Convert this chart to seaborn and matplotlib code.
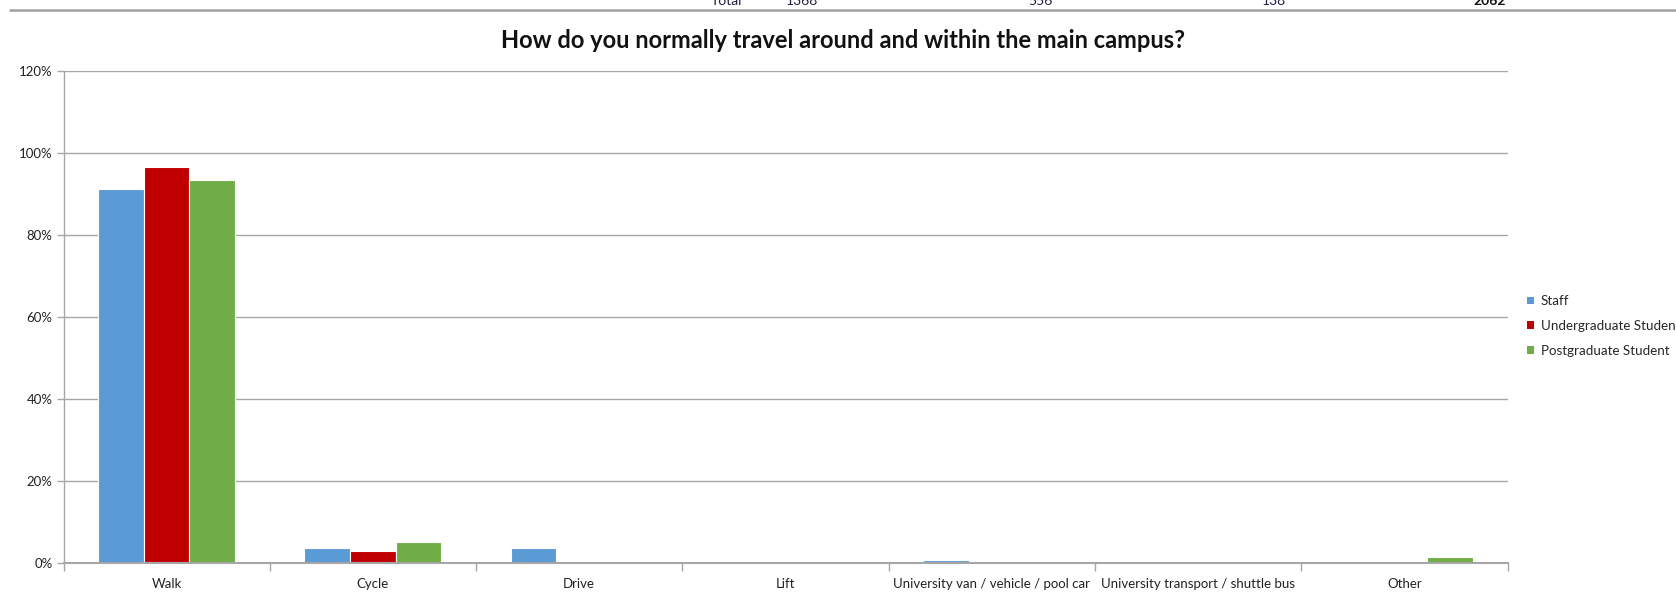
import matplotlib
matplotlib.use("Agg")
import matplotlib.pyplot as plt
from matplotlib.lines import Line2D
from matplotlib.patches import Patch
from matplotlib.ticker import FixedLocator, PercentFormatter
import seaborn as sns
import pandas as pd

# Survey results: share of each respondent group using each mode
modes = ["Walk", "Cycle", "Drive", "Lift",
         "University van / vehicle / pool car",
         "University transport / shuttle bus", "Other"]
groups = ["Staff", "Undergraduate Student", "Postgraduate Student"]
staff = [0.913, 0.0365, 0.0365, 0.0, 0.0073, 0.0, 0.0]
undergrad = [0.966, 0.029, 0.0, 0.0, 0.0, 0.0, 0.0]
postgrad = [0.935, 0.051, 0.0, 0.0, 0.0, 0.0, 0.0145]
colors = ["#5B9BD5", "#C00000", "#70AD47"]

# Totals row from the table above the chart
total_label = "Total"
totals = ["1368", "556", "138"]
grand_total = "2062"

rows = []
for g, vals in zip(groups, [staff, undergrad, postgrad]):
    for m, v in zip(modes, vals):
        rows.append({"mode": m, "group": g, "share": v})
df = pd.DataFrame(rows)

sns.set_theme(style="white")
plt.rcParams["font.family"] = ["Lato", "DejaVu Sans"]

fig = plt.figure(figsize=(16.76, 5.93), dpi=100)
W, H = 1676, 593
ax = fig.add_axes([63.5 / W, 1 - 563 / H, (1507.5 - 63.5) / W, (563 - 71) / H])

sns.barplot(data=df, x="mode", y="share", hue="group", order=modes,
            hue_order=groups, palette=colors, width=0.664, ax=ax,
            edgecolor="white", linewidth=0.8, saturation=1, legend=False)

ax.set_xlim(-0.5, len(modes) - 0.5)
ax.set_ylim(0, 1.2)
ax.set_xlabel("")
ax.set_ylabel("")

# horizontal gridlines
ax.set_yticks([0, 0.2, 0.4, 0.6, 0.8, 1.0, 1.2])
ax.yaxis.set_major_formatter(PercentFormatter(1.0, decimals=0))
ax.yaxis.grid(True, color="#A6A6A6", linewidth=1)
ax.set_axisbelow(True)
ax.tick_params(axis="y", which="major", length=5, width=1, color="#A6A6A6",
               labelsize=9.5, labelcolor="#222222", pad=3, left=True)

# category boundaries get tick marks, centres get the labels
ax.xaxis.set_minor_locator(FixedLocator([i - 0.5 for i in range(len(modes) + 1)]))
ax.tick_params(axis="x", which="minor", length=6, width=1, color="#A6A6A6",
               bottom=True, direction="out")
ax.tick_params(axis="x", which="major", length=0, labelsize=9.5,
               labelcolor="#222222", pad=11)

for side in ["top", "right"]:
    ax.spines[side].set_visible(False)
ax.spines["left"].set_color("#A6A6A6")
ax.spines["left"].set_linewidth(1)
ax.spines["bottom"].set_color("#A6A6A6")
ax.spines["bottom"].set_linewidth(1.5)

fig.text(843 / W, 1 - 40 / H, "How do you normally travel around and within the main campus?",
         ha="center", va="center", fontsize=17, fontweight="bold", color="#111111")

# legend to the right of the plot
handles = [Patch(facecolor=c, edgecolor="none") for c in colors]
fig.legend(handles, groups, loc="upper left", bbox_to_anchor=(1522 / W, 1 - 290 / H),
           frameon=False, fontsize=9.6, handlelength=0.52, handleheight=0.52,
           handletextpad=0.5, labelspacing=0.95, borderaxespad=0)

# table row cut off at the top edge
fig.add_artist(Line2D([10 / W, 1.0], [1 - 9.5 / H, 1 - 9.5 / H], color="#A0A0A0",
                      linewidth=1.8, transform=fig.transFigure))
ytxt = 1 - 5 / H
fig.text(726 / W, ytxt, total_label, ha="center", va="baseline", fontsize=10, color="#1F1F3F")
for xpos, t in zip([802, 1040, 1274], totals):
    fig.text(xpos / W, ytxt, t, ha="center", va="baseline", fontsize=10, color="#1F1F3F")
fig.text(1490 / W, ytxt, grand_total, ha="center", va="baseline", fontsize=10,
         fontweight="bold", color="#111111")

fig.savefig("out.png", dpi=100, facecolor="white")
